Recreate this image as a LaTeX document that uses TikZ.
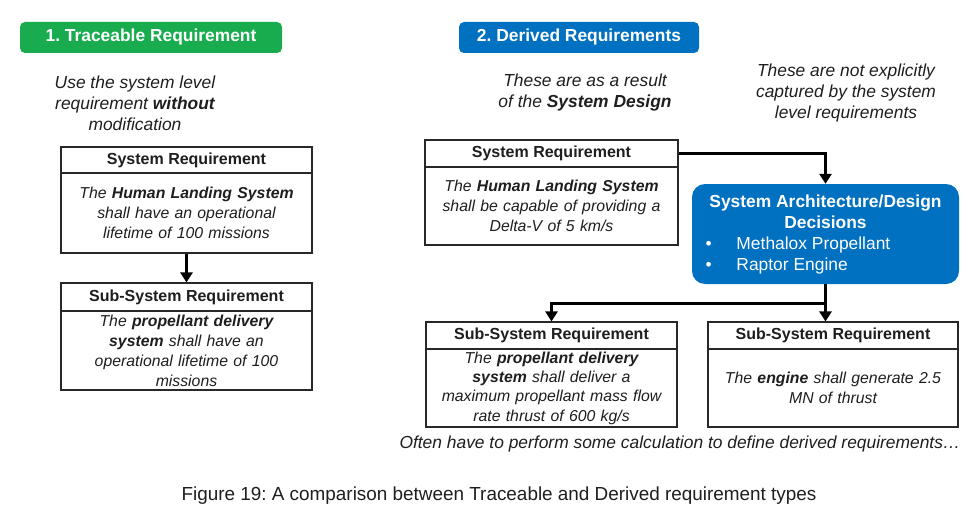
\documentclass[tikz,border=0pt]{standalone}
\usepackage{fontspec}
\setmainfont{Liberation Sans}
\usetikzlibrary{arrows.meta}
\frenchspacing
\definecolor{tgreen}{RGB}{24,172,78}
\definecolor{tblue}{RGB}{0,112,192}
\definecolor{txt}{RGB}{30,30,30}
\definecolor{boxline}{RGB}{40,40,40}
\tikzset{
  badge/.style={fill=#1, rounded corners=5pt, inner sep=0pt, text=white,
    font=\fontsize{17.4}{20}\selectfont\bfseries},
  hdr/.style={draw=boxline, line width=1.1pt, fill=white, inner sep=0pt, text=txt,
    font=\fontsize{16}{19}\selectfont\bfseries},
  bodybox/.style={draw=boxline, line width=1.1pt, fill=white, inner sep=0pt, text=txt,
    align=center, font=\fontsize{15.8}{20}\selectfont\itshape},
  note/.style={text=txt, align=center, inner sep=0pt, font=\fontsize{17.4}{21}\selectfont\itshape},
  arr/.style={line width=2.6pt, draw=black, -{Triangle[width=12pt,length=10pt]}},
}
\begin{document}
\begin{tikzpicture}[x=1pt,y=-1pt]
\useasboundingbox (0,0) rectangle (977,511);

% badges
\node[badge=tgreen, minimum width=262pt, minimum height=31pt] (b1) at (151,37.5) {1. Traceable Requirement};
\node[badge=tblue, minimum width=240pt, minimum height=31pt] (b2) at (579,37.5) {2. Derived Requirements};

% notes
\node[note] (n1) at (135,103) {Use the system level\\requirement \textbf{without}\\modification};
\node[note] (n2) at (585,92.5) {These are as a result\\of the \textbf{System Design}};
\node[note] (n3) at (846,93) {These are not explicitly\\captured by the system\\level requirements};

% left column
\node[hdr, minimum width=251pt, minimum height=26pt] (lh) at (186.5,160) {System Requirement};
\node[bodybox, minimum width=251pt, minimum height=80pt, text width=245pt] (lb) at (186.5,213)
  {The \textbf{Human Landing System}\\shall have an operational\\lifetime of 100 missions};
\node[hdr, minimum width=251pt, minimum height=28pt] (lsh) at (186.5,297) {Sub-System Requirement};
\node[bodybox, minimum width=251pt, minimum height=79pt, text width=245pt] (lsb) at (186.5,350.5)
  {The \textbf{propellant delivery}\\\textbf{system} shall have an\\operational lifetime of 100\\missions};

% right column
\node[hdr, minimum width=253pt, minimum height=27pt] (rh) at (551.5,153.5) {System Requirement};
\node[bodybox, minimum width=253pt, minimum height=78pt, text width=247pt] (rb) at (551.5,206)
  {The \textbf{Human Landing System}\\shall be capable of providing a\\Delta-V of 5 km/s};

\node[fill=tblue, rounded corners=13pt, minimum width=267pt, minimum height=100pt, inner sep=0pt, text=white,
  font=\fontsize{17.4}{21}\selectfont] (arch) at (825.5,234)
  {\parbox{260pt}{\centering\bfseries System Architecture/Design\\Decisions\par
   \raggedright\mdseries\hspace*{10pt}\makebox[31pt][l]{\textbullet}Methalox Propellant\\
   \hspace*{10pt}\makebox[31pt][l]{\textbullet}Raptor Engine\par}};

\node[hdr, minimum width=251pt, minimum height=27pt] (slh) at (551.5,335.5) {Sub-System Requirement};
\node[bodybox, minimum width=251pt, minimum height=78pt, text width=247pt, font=\fontsize{15.8}{19.3}\selectfont\itshape] (slb) at (551.5,388)
  {The \textbf{propellant delivery}\\\textbf{system} shall deliver a\\maximum propellant mass flow\\rate thrust of 600 kg/s};
\node[hdr, minimum width=250pt, minimum height=27pt] (srh) at (833,335.5) {Sub-System Requirement};
\node[bodybox, minimum width=250pt, minimum height=78pt, text width=244pt] (srb) at (833,388)
  {The \textbf{engine} shall generate 2.5\\MN of thrust};

\node[note] (foot) at (680,444) {Often have to perform some calculation to define derived requirements\ldots};
\node[text=txt, inner sep=0pt, font=\fontsize{18.9}{21}\selectfont] (cap) at (499,496)
  {Figure 19: A comparison between Traceable and Derived requirement types};

% connectors
\draw[arr] (lb.south) -- (lsh.north);
\draw[arr] (rh.east) -| (arch.north);
\draw[arr] (arch.south) -- ++(0,19) -| (slh.north);
\draw[arr] (arch.south) -- (arch.south |- srh.north);
\end{tikzpicture}
\end{document}
